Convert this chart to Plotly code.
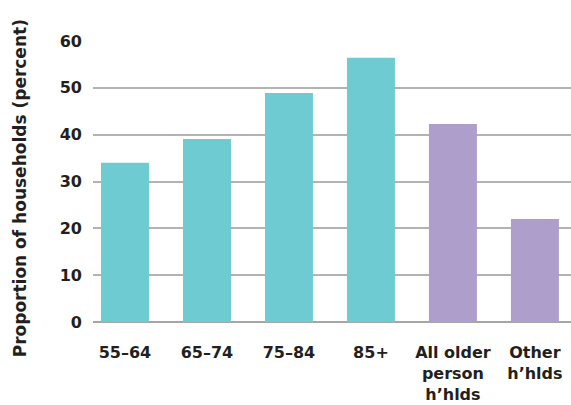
import plotly.graph_objects as go

categories = ["55–64", "65–74", "75–84", "85+", "All older<br>person<br>h’hlds", "Other<br>h’hlds"]
values = [34.0, 39.1, 48.9, 56.4, 42.3, 22.0]
colors = ["#6ecbd1", "#6ecbd1", "#6ecbd1", "#6ecbd1", "#ae9ecb", "#ae9ecb"]
y_ticks = [0, 10, 20, 30, 40, 50, 60]

FONT = "DejaVu Sans"
TXT = "#231f20"

fig = go.Figure(
    go.Bar(
        x=categories,
        y=values,
        marker=dict(color=colors, line=dict(width=0)),
        width=0.585,
    )
)

fig.update_layout(
    width=571,
    height=405,
    margin=dict(l=93, r=0, t=41, b=83),
    plot_bgcolor="white",
    paper_bgcolor="white",
    showlegend=False,
    font=dict(family=FONT, color=TXT),
    annotations=[
        dict(
            text="Proportion of households (percent)",
            textangle=-90,
            xref="paper", yref="paper",
            x=-0.152, y=0.477,
            xanchor="center", yanchor="middle",
            showarrow=False,
            font=dict(family=FONT, size=17, color=TXT, weight="bold"),
        )
    ],
)

fig.update_xaxes(
    range=[-0.39, 5.44],
    showgrid=False,
    showline=False,
    ticks="",
    tickfont=dict(family=FONT, size=16, color=TXT, weight="bold"),
    ticklabelstandoff=19,
    automargin=False,
)

fig.update_yaxes(
    range=[0, 60],
    tickvals=y_ticks,
    showgrid=True,
    gridcolor="#b3b3b3",
    gridwidth=1.6,
    zeroline=True,
    zerolinecolor="#a6a6a6",
    zerolinewidth=2,
    showline=False,
    ticks="",
    tickfont=dict(family=FONT, size=16, color=TXT, weight="bold"),
    ticklabelstandoff=10,
    automargin=False,
)

fig.write_html("out.html")
